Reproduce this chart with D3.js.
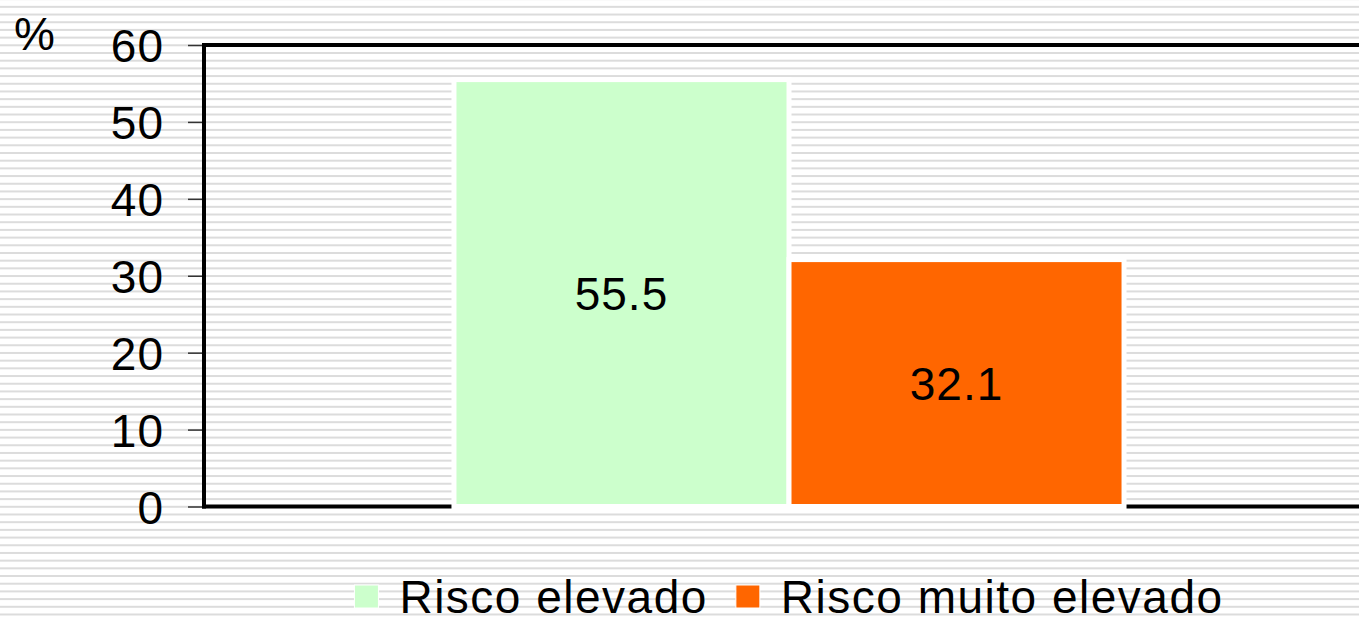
<!DOCTYPE html>
<html lang="pt">
<head>
  <meta charset="UTF-8" />
  <title>Risco elevado vs muito elevado</title>
  <script src="https://cdn.jsdelivr.net/npm/d3@7/dist/d3.min.js"></script>
  <style>
    html, body { margin: 0; padding: 0; background: #fff; }
    body { font-family: "Liberation Sans", Arial, sans-serif; }
    #viz { width: 1359px; height: 618px; overflow: hidden; }
  </style>
</head>
<body>
  <div id="viz"></div>

  <script>
  // dados
  const categories   = [""];
  const seriesNames  = ["Risco elevado", "Risco muito elevado"];
  const seriesValues = [55.5, 32.1];
  const seriesColors = ["#ccffcc", "#ff6600"];
  const yTicks       = [0, 10, 20, 30, 40, 50, 60];
  const unitLabel    = "%";

  function drawViz() {
    const W = 1359, H = 618;
    const margin = { top: 45, left: 204 };
    const plotRight = 1374;      // a área do gráfico sai fora da imagem
    const plotBottom = 506.5;

    const svg = d3.select('#viz').append('svg')
      .attr('width', W).attr('height', H)
      .style('font-family', '"Liberation Sans", Arial, sans-serif');

    const y = d3.scaleLinear().domain([0, 60]).range([plotBottom, margin.top]);
    const x0 = d3.scaleBand().domain(categories).range([margin.left, plotRight]).padding(0.2717);
    const x1 = d3.scaleBand().domain(seriesNames).range([0, x0.bandwidth()]);

    // fundo riscado (linhas horizontais cinzentas)
    svg.append('g').selectAll('rect')
      .data(d3.range(-17, 67))
      .join('rect')
        .attr('x', 0).attr('width', W)
        .attr('y', d => y(d) - 0.7).attr('height', 2)
        .attr('fill', '#dcdcdc');

    // eixo Y
    const yAxis = svg.append('g')
      .attr('transform', `translate(${margin.left},0)`)
      .call(d3.axisLeft(y).tickValues(yTicks).tickSize(16).tickPadding(24));
    yAxis.select('.domain').remove();
    yAxis.selectAll('.tick line').attr('stroke', '#333').attr('stroke-width', 1.5);
    yAxis.selectAll('.tick text')
      .attr('fill', '#000')
      .style('font-size', '46px')
      .style('letter-spacing', '1px')
      .style('font-family', '"Liberation Sans", Arial, sans-serif')
      .attr('dy', '0.36em');

    // moldura (topo, esquerda, base)
    const frame = svg.append('g').attr('stroke', '#000').attr('stroke-width', 4).attr('fill', 'none');
    frame.append('line').attr('x1', margin.left).attr('x2', plotRight)
      .attr('y1', y(60)).attr('y2', y(60));
    frame.append('line').attr('x1', margin.left).attr('x2', margin.left)
      .attr('y1', y(60) - 2).attr('y2', plotBottom + 2);
    frame.append('line').attr('x1', margin.left - 2).attr('x2', plotRight)
      .attr('y1', plotBottom).attr('y2', plotBottom);

    // barras
    const bars = svg.append('g')
      .attr('transform', `translate(${x0(categories[0])},0)`);
    bars.selectAll('rect')
      .data(seriesNames)
      .join('rect')
        .attr('x', d => x1(d))
        .attr('width', x1.bandwidth())
        .attr('y', (d, i) => y(seriesValues[i]))
        .attr('height', (d, i) => y(0) - y(seriesValues[i]))
        .attr('fill', (d, i) => seriesColors[i])
        .attr('stroke', '#fff')
        .attr('stroke-width', 5);

    bars.selectAll('text')
      .data(seriesNames)
      .join('text')
        .attr('x', d => x1(d) + x1.bandwidth() / 2)
        .attr('y', (d, i) => (y(seriesValues[i]) + y(0)) / 2 + 17)
        .attr('text-anchor', 'middle')
        .style('font-size', '46px')
        .style('letter-spacing', '1px')
        .text((d, i) => seriesValues[i].toFixed(1));

    // unidade
    svg.append('text')
      .attr('x', 14).attr('y', 50)
      .style('font-size', '46px')
      .text(unitLabel);

    // legenda
    const legend = svg.append('g');
    const items = legend.selectAll('g')
      .data(seriesNames)
      .join('g');
    items.append('rect')
      .attr('width', 24).attr('height', 23)
      .attr('y', 585)
      .attr('fill', (d, i) => seriesColors[i])
      .attr('stroke', '#fff').attr('stroke-width', 1);
    items.append('text')
      .attr('y', 613)
      .style('font-size', '46px')
      .style('letter-spacing', '1.5px')
      .text(d => d);

    // posiciona itens lado a lado, centrados no grupo de barras
    let cursor = 0;
    const gapSqText = 21, gapItems = 28;
    items.each(function () {
      const g = d3.select(this);
      const tw = g.select('text').node().getComputedTextLength();
      g.select('rect').attr('x', cursor);
      g.select('text').attr('x', cursor + 24 + gapSqText);
      cursor += 24 + gapSqText + tw + gapItems;
    });
    const total = cursor - gapItems;
    const center = x0(categories[0]) + x0.bandwidth() / 2;
    legend.attr('transform', `translate(${center - total / 2},0)`);
  }

  document.addEventListener('DOMContentLoaded', drawViz);
  </script>
</body>
</html>
